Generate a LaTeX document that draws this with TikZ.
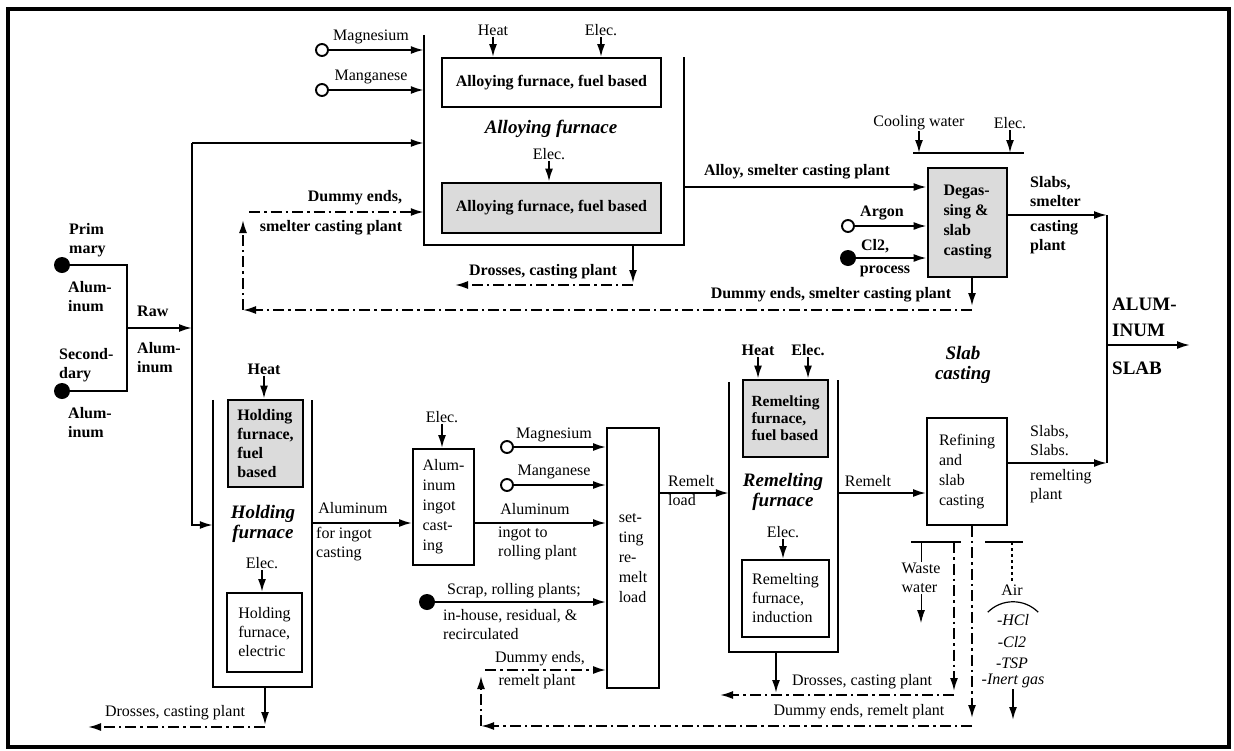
\documentclass[tikz,border=0pt]{standalone}
\usepackage{fontspec}
\setmainfont{Liberation Serif}
\usetikzlibrary{positioning,arrows.meta,calc}
\newcommand{\labfont}{\fontsize{16}{19}\selectfont}
\newcommand{\ttlfont}{\fontsize{19}{20}\selectfont\bfseries\itshape}
\tikzset{
  blk/.style={draw=black,line width=1.9pt,fill=white,align=left,font=\labfont,inner sep=2pt},
  hot/.style={blk,fill=black!14,line width=2.8pt,font=\labfont\bfseries},
  frm/.style={inner sep=0pt,draw=none},
  wall/.style={line width=2pt},
  fl/.style={-{Latex[length=13pt,width=8pt]},line width=1.9pt},
  dd/.style={fl,dash pattern=on 11pt off 4pt on 2.5pt off 4pt},
  lbl/.style={font=\labfont,align=left,inner sep=1pt},
  blbl/.style={lbl,font=\labfont\bfseries},
  ttl/.style={font=\ttlfont,align=center,inner sep=1pt},
  src/.style={circle,draw=black,line width=1.9pt,fill=white,minimum size=12pt,inner sep=0pt},
  srcf/.style={circle,fill=black,minimum size=16pt,inner sep=0pt},
}
\begin{document}
\begin{tikzpicture}[x=1pt,y=-1pt]
\useasboundingbox (0,0) rectangle (1234,750);
\draw[line width=3.5pt] (8,9) rectangle (1229,747);
% furnace frames and boxes
\node[frm,minimum width=260,minimum height=210] (alf) at (554,140) {};
\node[frm,minimum width=99,minimum height=287] (hf) at (262.5,543.5) {};
\node[frm,minimum width=109,minimum height=270] (rf) at (783.5,517) {};
\draw[wall] (alf.north west) -- (alf.south west) -- (alf.south east) -- ([yshift=-22pt]alf.north east);
\draw[wall] (hf.north west) -- (hf.south west) -- (hf.south east) -- (hf.north east);
\draw[wall] (rf.north west) -- (rf.south west) -- (rf.south east) -- ([yshift=2pt]rf.north east);
\node[blk,font=\labfont\bfseries,minimum width=219,minimum height=49] (af1) at (551.5,82.5) {Alloying furnace, fuel based};
\node[hot,minimum width=219,minimum height=50] (af2) at (551.5,208) {Alloying furnace, fuel based};
\node[ttl] (aft) at (551,129) {Alloying furnace};
\node[hot,minimum width=75,minimum height=87] (hf1) at (265.5,443.5) {Holding\\furnace,\\fuel\\based};
\node[blk,minimum width=75,minimum height=79] (hf2) at (264.5,632.5) {Holding\\furnace,\\electric};
\node[ttl] (hft) at (263,524) {Holding\\furnace};
\node[blk,font=\fontsize{16}{20}\selectfont,minimum width=61,minimum height=116] (ingot) at (443.5,507) {Alum-\\inum\\ingot\\cast-\\ing};
\node[blk,font=\fontsize{16}{20}\selectfont,minimum width=52,minimum height=260] (setl) at (633,558) {set-\\ting\\re-\\melt\\load};
\node[hot,font=\fontsize{15.5}{17}\selectfont\bfseries,minimum width=85,minimum height=77] (rf1) at (785.5,418.5) {Remelting\\furnace,\\fuel based};
\node[blk,minimum width=87,minimum height=77] (rf2) at (785.5,598.5) {Remelting\\furnace,\\induction};
\node[ttl] (rft) at (783,492) {Remelting\\furnace};
\node[hot,font=\fontsize{16}{20}\selectfont\bfseries,minimum width=79,minimum height=109] (deg) at (967.5,222.5) {Degas-\\sing \&\\slab\\casting};
\node[blk,font=\fontsize{16}{20}\selectfont,minimum width=80,minimum height=107] (ref) at (967,471.5) {Refining\\and\\slab\\casting};
\node[ttl] (sct) at (963,365) {Slab\\casting};
% sources and labels
\node[srcf] (pa) at (62,265) {};
\node[srcf] (sa) at (62,391) {};
\node[src] (mg1) at (322,50) {};
\node[src] (mn1) at (322,90) {};
\node[src] (mg2) at (507,447) {};
\node[src] (mn2) at (507,485) {};
\node[src] (ar) at (848,226) {};
\node[srcf] (cl) at (848,258) {};
\node[srcf] (scr) at (427,602) {};
\node[blbl,anchor=west] (pal) at (68,240) {Prim\\mary};
\node[blbl,anchor=west] (pal2) at (67,297) {Alum-\\inum};
\node[blbl,anchor=west] (rawl) at (136,311) {Raw};
\node[blbl,anchor=west] (rawl2) at (136,358) {Alum-\\inum};
\node[blbl,anchor=west] (sal) at (58,365) {Second-\\dary};
\node[blbl,anchor=west] (sal2) at (67,423) {Alum-\\inum};
\node[lbl] (mgt) at (371,37) {Magnesium};
\node[lbl] (mnt) at (371,77) {Manganese};
\node[lbl] (ht1) at (493,30) {Heat};
\node[lbl] (el1) at (601,30) {Elec.};
\node[lbl] (el1b) at (549,154) {Elec.};
\node[blbl] (dmt1) at (355,198) {Dummy ends,};
\node[blbl] (dmt2) at (331,228) {smelter casting plant};
\node[blbl] (drt1) at (543,272) {Drosses, casting plant};
\node[blbl] (dmt3) at (831,295) {Dummy ends, smelter casting plant};
\node[blbl] (alo) at (797,172) {Alloy, smelter casting plant};
\node[lbl] (cw) at (919,123) {Cooling water};
\node[lbl] (el5) at (1010,123) {Elec.};
\node[blbl] (arl) at (882,213) {Argon};
\node[blbl] (cll) at (875,246) {Cl2,};
\node[blbl] (prl) at (885,271) {process};
\node[blbl,anchor=west] (sl1) at (1029,192) {Slabs,\\smelter};
\node[blbl,anchor=west] (sl2) at (1029,237) {casting\\plant};
\node[blbl] (ht2) at (264,369) {Heat};
\node[lbl] (el2) at (262,563) {Elec.};
\node[lbl] (drt2) at (175,713) {Drosses, casting plant};
\node[lbl] (alm1) at (353,508) {Aluminum};
\node[lbl,anchor=west] (alm2) at (315,544) {for ingot\\casting};
\node[lbl] (el3) at (442,417) {Elec.};
\node[lbl] (mgt2) at (554,435) {Magnesium};
\node[lbl] (mnt2) at (554,472) {Manganese};
\node[lbl] (alm3) at (535,509) {Aluminum};
\node[lbl,anchor=west] (alm4) at (497,543) {ingot to\\rolling plant};
\node[lbl] (scl) at (514,591) {Scrap, rolling plants;};
\node[lbl,anchor=west] (scl2) at (442,625) {in-house, residual, \&\\recirculated};
\node[lbl] (dmt4) at (540,659) {Dummy ends,};
\node[lbl] (dmt5) at (537,682) {remelt plant};
\node[lbl,anchor=west] (rll) at (667,491) {Remelt\\load};
\node[blbl] (ht3) at (758,350) {Heat};
\node[blbl] (el6) at (808,350) {Elec.};
\node[lbl] (el4) at (783,532) {Elec.};
\node[lbl] (rml) at (868,481) {Remelt};
\node[lbl] (drt3) at (862,682) {Drosses, casting plant};
\node[lbl] (dmt6) at (859,712) {Dummy ends, remelt plant};
\node[lbl,anchor=west] (sl3) at (1029,441) {Slabs,\\Slabs.};
\node[lbl,anchor=west] (sl4) at (1029,486) {remelting\\plant};
\node[lbl] (ww) at (921,578) {Waste\\water};
\node[lbl] (air) at (1012,590) {Air};
\node[lbl,font=\labfont\itshape] (hcl) at (1013,620) {-HCl};
\node[lbl,font=\labfont\itshape] (cl2) at (1012,642) {-Cl2};
\node[lbl,font=\labfont\itshape] (tsp) at (1012,663) {-TSP};
\node[lbl,font=\labfont\itshape] (ing) at (1013,681) {-Inert gas};
\node[font=\fontsize{19}{26}\selectfont\bfseries,align=left,anchor=west,inner sep=1pt] (alu) at (1111,317) {ALUM-\\INUM};
\node[font=\fontsize{19}{26}\selectfont\bfseries,anchor=west,inner sep=1pt] (slb) at (1111,368) {SLAB};
% junctions and corners
\coordinate (pj) at (127,265);
\coordinate (sj) at (127,391);
\coordinate (rj) at (127,328);
\coordinate (tr1) at (192,143);
\coordinate (tr2) at (192,525);
\coordinate (ds1) at (972,310);
\coordinate (ds2) at (243,310);
\coordinate (ds3) at (243,212);
\coordinate (dr1) at (633,285);
\coordinate (dr1e) at (455,285);
\coordinate (ao) at (684,187);
\coordinate (cb1) at (913,153);
\coordinate (cb2) at (1024,153);
\coordinate (sj1) at (1107,215);
\coordinate (sj2) at (1107,463);
\coordinate (so) at (1107,345);
\coordinate (soe) at (1190,345);
\coordinate (dr2) at (265,727);
\coordinate (dr2e) at (88,727);
\coordinate (ai) at (312,523);
\coordinate (dm0) at (972,718);
\coordinate (dm1) at (972,726);
\coordinate (dm2) at (481,726);
\coordinate (dm3) at (481,670);
\coordinate (rl) at (659,493);
\coordinate (rm) at (838,493);
\coordinate (dr3) at (776,695);
\coordinate (dr3r) at (954,695);
\coordinate (dr3e) at (720,695);
\coordinate (ww1) at (911,542);
\coordinate (ww2) at (961,542);
\coordinate (ww3) at (954,542);
\coordinate (wwe) at (921,623);
\coordinate (ai1) at (985,542);
\coordinate (ai2) at (1023,542);
\coordinate (aie) at (1013,720);
% raw aluminium feed
\draw[wall] (pa) -- (pj) -- (sj) -- (sa);
\draw[fl] (rj) -- (rj -| tr1);
\draw[fl] (tr1) -- (tr1 -| alf.west);
\draw[fl] (tr1) -- (tr2) -- (tr2 -| hf.west);
% alloying
\draw[fl] (mg1) -- (mg1 -| alf.west);
\draw[fl] (mn1) -- (mn1 -| alf.west);
\draw[fl] (ht1.south) -- (ht1.south |- af1.north);
\draw[fl] (el1.south) -- (el1.south |- af1.north);
\draw[fl] (el1b.south) -- (el1b.south |- af2.north);
\draw[fl] (alf.south -| dr1) -- ([yshift=2pt]dr1);
\draw[dd] (dr1) -- (dr1e);
\draw[fl] (ao) -- (ao -| deg.west);
% degassing
\draw[wall] (cb1) -- (cb2);
\draw[fl] (cw.south) -- (cw.south |- cb1);
\draw[fl] (el5.south) -- (el5.south |- cb1);
\draw[fl] (ar) -- (ar -| deg.west);
\draw[fl] (cl) -- (cl -| deg.west);
\draw[fl] (deg.south -| ds1) -- ([yshift=4pt]ds1);
\draw[dd] (ds1) -- (ds2);
\draw[dd] (ds2) -- ([yshift=-8pt]ds3);
\draw[dd] ([xshift=6pt]ds3) -- (ds3 -| alf.west);
\draw[fl] (deg.east |- sj1) -- (sj1);
\draw[fl] (ref.east |- sj2) -- (sj2);
\draw[wall] (sj1) -- (sj2);
\draw[fl] (so) -- (soe);
% holding and ingot
\draw[fl] (ht2.south) -- (ht2.south |- hf1.north);
\draw[fl] (el2.south) -- (el2.south |- hf2.north);
\draw[fl] (hf.south -| dr2) -- ([yshift=2pt]dr2);
\draw[dd] (dr2) -- (dr2e);
\draw[fl] (ai) -- (ai -| ingot.west);
\draw[fl] (el3.south) -- (el3.south |- ingot.north);
\draw[fl] (mg2) -- (mg2 -| setl.west);
\draw[fl] (mn2) -- (mn2 -| setl.west);
\draw[fl] (ingot.east |- ai) -- (ai -| setl.west);
\draw[fl] (scr) -- (scr -| setl.west);
\draw[fl] (rl) -- (rl -| rf.west);
% remelting
\draw[fl] (ht3.south) -- (ht3.south |- rf1.north);
\draw[fl] (el6.south) -- (el6.south |- rf1.north);
\draw[fl] (el4.south) -- (el4.south |- rf2.north);
\draw[fl] (rm) -- (rm -| ref.west);
\draw[fl] (rf.south -| dr3) -- ([yshift=2pt]dr3);
\draw[wall] (ww1) -- (ww2);
\draw[dd] (ww3) -- ([yshift=4pt]dr3r);
\draw[dd] (dr3r) -- (dr3e);
\draw[line width=1pt] (ww.north |- ww1) -- (ww.north);
\draw[fl,line width=1pt] (ww.south) -- (ww.south |- wwe);
\draw[dd] (ref.south -| dm0) -- (dm0);
\draw[dd] (dm1) -- (dm2);
\draw[dd] (dm2) -- ([yshift=-6pt]dm3);
\draw[dd] ([xshift=4pt]dm3) -- (dm3 -| setl.west);
% off-gas
\draw[wall] (ai1) -- (ai2);
\draw[line width=1.2pt,dashed] (air.north |- ai1) -- (air.north);
\draw[line width=1.2pt] ([xshift=-8pt,yshift=1pt]hcl.north west) to[bend left=45] ([xshift=8pt,yshift=1pt]hcl.north east);
\draw[fl] (ing.south) -- (ing.south |- aie);
\end{tikzpicture}
\end{document}
